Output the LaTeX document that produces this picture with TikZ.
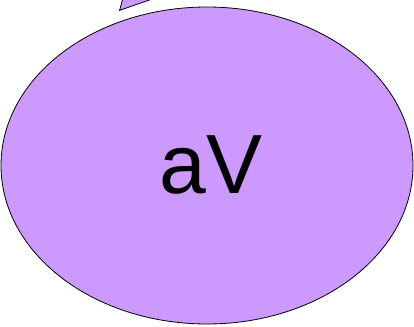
\documentclass[tikz,border=0pt]{standalone}
\usepackage{fontspec}
\setmainfont{Liberation Sans}
\definecolor{BubbleColor}{RGB}{204,153,255}
\usetikzlibrary{positioning, arrows.meta, shapes.geometric}

\begin{document}
\begin{tikzpicture}[x=1pt, y=1pt]
          \useasboundingbox (0,0) rectangle (414,326);
          \node[ellipse, draw, thick, fill=BubbleColor, minimum width=412pt, minimum height=317pt, inner sep=0pt,
                font=\fontsize{84}{84}\selectfont] (av) at (207,160.5) {\hspace{8pt}aV};
          \coordinate (src) at (175,375);
          \coordinate (tip) at (119,315);
          \draw[thick, -{Triangle[length=40pt, width=42pt, fill=BubbleColor]}] (src) -- (tip);
        \end{tikzpicture}
\end{document}
